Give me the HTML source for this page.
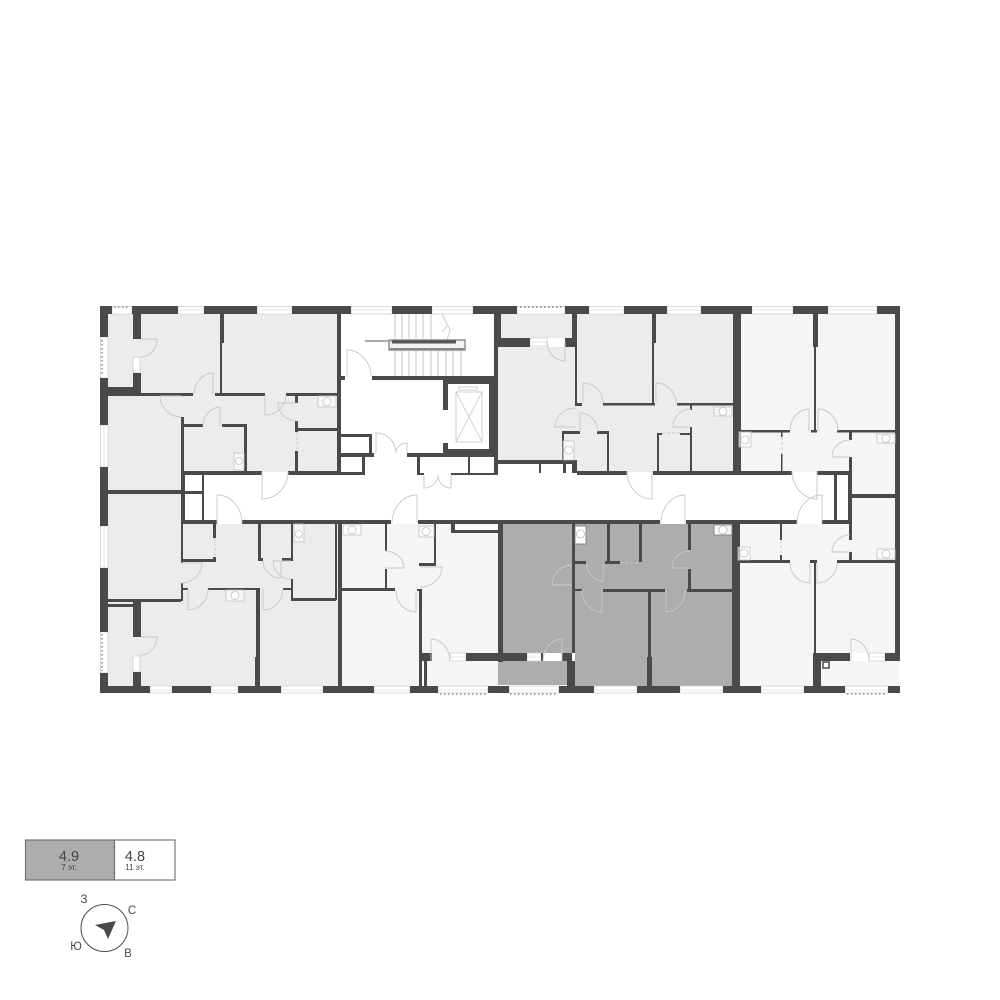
<!DOCTYPE html>
<html><head><meta charset="utf-8"><style>html,body{margin:0;padding:0;background:#fff}svg{display:block}text{font-family:"Liberation Sans",sans-serif}</style></head><body>
<svg width="1000" height="1000" viewBox="0 0 1000 1000" xmlns="http://www.w3.org/2000/svg" shape-rendering="geometricPrecision">
<rect width="1000" height="1000" fill="#fff"/>
<!-- apartment fills -->
<path fill="#ececec" d="M108 314H337V472H181V491H108Z"/>
<path fill="#ececec" d="M108 494H181V524H338V686H108Z"/>
<path fill="#f5f5f5" d="M342 524H498V686H427V661H422V686H342Z"/>
<path fill="#f5f5f5" d="M427 661H498V685H427Z"/>
<path fill="#fff" d="M455 524H498V530H455Z"/>
<path fill="#adadad" d="M503 524H733V686H575V653H503Z"/>
<path fill="#adadad" d="M498 661H567V685H498Z"/>
<path fill="#ececec" d="M498 347H572V340H577V314H733V472H498Z"/>
<path fill="#ececec" d="M501 314H572V338H501Z"/>
<path fill="#fff" d="M494 464H572V475H494Z"/>
<path fill="#f5f5f5" d="M741 314H895V497H849V472H741Z"/>
<path fill="#f5f5f5" d="M740 524H849V498H895V653H815V686H740Z"/>
<path fill="#f5f5f5" d="M821 661H899V686H821Z"/>
<!-- windows -->
<g fill="#fff" stroke="#cfcfcf" stroke-width="0.8">
<path d="M112 306.5H132V314H112Z M178 306.5H204V314H178Z M257 306.5H292V314H257Z M351 306.5H392V314H351Z M432 306.5H473V314H432Z M517 306.5H565V314H517Z M589 306.5H624V314H589Z M667 306.5H701V314H667Z M752 306.5H793V314H752Z M828 306.5H877V314H828Z"/>
<path d="M150 686H172V693H150Z M211 686H238V693H211Z M281 686H323V693H281Z M374 686H410V693H374Z M438 686H488V693H438Z M509 686H559V693H509Z M594 686H637V693H594Z M680 686H723V693H680Z M761 686H804V693H761Z M845 686H888V693H845Z"/>
<path d="M100.5 337H108V378H100.5Z M100.5 425H108V467H100.5Z M100.5 526H108V568H100.5Z M100.5 632H108V673H100.5Z"/>
<path d="M133 357H140V373H133Z M133 656H140V672H133Z M530 338H547V346H530Z M450 653H466V661H450Z M527 653H542V661H527Z M869 653H885V661H869Z"/>
</g>
<path fill="none" stroke="#cfcfcf" stroke-width="0.6" d="M178 310H204M257 310H292M351 310H392M432 310H473M589 310H624M667 310H701M752 310H793M828 310H877M281 690H323M374 690H410M438 690H488M509 690H559M594 690H637M680 690H723M761 690H804M845 690H888M150 690H172M211 690H238M104 425V467M104 526V568M530 342H547M450 657H466M527 657H542M869 657H885"/>
<path fill="none" stroke="#888" stroke-width="1.5" stroke-dasharray="1.5 2.5" d="M114 307H130M520 307H564M102 340V376M102 634V671M440 694H488M510 694H558M847 694H887"/>
<!-- stairs -->
<path fill="none" stroke="#d8d8d8" stroke-width="1.5" d="M395 314V339M402 314V339M409 314V339M416 314V339M423 314V339M431 314V339M395 351V376M402 351V376M409 351V376M416 351V376M423 351V376M431 351V376M438 351V376M446 351V376M453 351V376M461 351V376"/>
<path fill="none" stroke="#bbb" stroke-width="0.7" d="M442 314L450 330L447 340M447 326L442 332"/>
<path fill="#f2f2f2" stroke="#777" stroke-width="1.2" d="M389 340H465V350H389Z"/>
<path fill="#555" d="M392 340.500H456V343.500H392Z"/>
<path fill="#aaa" d="M365 340H392V342H365Z"/>
<path fill="#888" d="M390 348H464V350H390Z"/>
<!-- walls -->
<path fill="#4a4a4a" d="
M100 306H112V314H100Z M132 306H178V314H132Z M204 306H257V314H204Z M292 306H351V314H292Z M392 306H432V314H392Z M473 306H517V314H473Z M565 306H589V314H565Z M624 306H667V314H624Z M701 306H752V314H701Z M793 306H828V314H793Z M877 306H900V314H877Z
M100 686H150V693H100Z M172 686H211V693H172Z M238 686H281V693H238Z M323 686H374V693H323Z M410 686H438V693H410Z M488 686H509V693H488Z M559 686H594V693H559Z M637 686H680V693H637Z M723 686H761V693H723Z M804 686H845V693H804Z M888 686H900V693H888Z
M100 306H108V337H100Z M100 378H108V425H100Z M100 467H108V526H100Z M100 568H108V632H100Z M100 673H108V693H100Z
M895 306H900V661H895Z
M133 314H141V339H133Z M133 373H141V395H133Z M108 387H141V395H108Z M108 393H193V396H108Z M215 393H265V396H215Z M286 393H338V396H286Z
M220 314H224V343H220Z M220 343H222V393H220Z M337 314H341V475H337Z M341 376H345V380H341Z
M181 417H184V475H181Z M181 424H203V427H181Z M222 424H247V427H222Z M244 424H247V472H244Z M181 471H262V475H181Z M288 471H341V475H288Z
M295 395H298V403H295Z M295 421H298V432H295Z M295 451H298V472H295Z M297 428H337V431H297Z
M181 475H185V523H181Z M202 475H204V521H202Z M185 491H202V494H185Z M108 490H181V494H108Z
M341 434H372V437H341Z M369 434H372V453H369Z M341 453H374V457H341Z M362 457H365V475H362Z M335 472H365V475H335Z
M407 453H494V457H407Z M417 457H420V475H417Z M468 457H470V475H468Z M420 473H424V475H420Z M451 473H498V475H451Z
M494 314H501V345H494Z M494 345H498V475H494Z M498 338H530V347H498Z M565 338H572V347H565Z M572 314H577V347H572Z M575 347H577V403H575Z M575 403H582V406H575Z
M562 431H580V434H562Z M562 431H564V460H562Z M572 460H577V473H572Z M494 460H577V464H494Z M539 464H541V473H539Z M563 464H566V473H563Z M577 471H627V475H577Z M597 431H608V434H597Z
M372 376H494V380H372Z M341 376H345V380H341Z
M443 380H494V384H443Z M443 380H448V410H443Z M443 443H448V453H443Z M443 449H494V453H443Z M489 380H494V453H489Z
M181 520H217V524H181Z M242 520H391V524H242Z M418 520H660V524H418Z M686 520H797V524H686Z M822 520H852V524H822Z
M181 524H183V563H181Z M181 559H216V562H181Z M213 524H216V538H213Z M213 557H216V562H213Z
M181 583H183V601H181Z M183 588H188V590H183Z M208 588H260V590H208Z M108 599H181V602H108Z M133 602H141V637H133Z M133 672H141V686H133Z M108 604H133V607H108Z
M256 590H260V657H256Z M255 657H260V686H255Z
M258 524H261V560H258Z M258 558H263V561H258Z M282 558H293V561H282Z M291 524H293V561H291Z M291 579H293V600H291Z M283 588H293V590H283Z M291 598H336V601H291Z M335 524H337V600H335Z M338 524H342V693H338Z
M342 588H395V591H342Z M385 524H387V551H385Z M385 569H387V591H385Z M434 524H436V565H434Z M419 563H436V566H419Z M419 589H422V686H419Z M417 589H422V591H417Z
M451 524H455V532H451Z M451 530H498V533H451Z M498 524H503V662H498Z
M422 653H432V661H422Z M466 653H527V661H466Z M541 653H543V661H541Z M562 653H572V661H562Z M567 661H575V686H567Z M572 524H575V653H572Z M424 661H427V686H424Z
M573 561H586V564H573Z M572 589H582V591H572Z M605 561H620V564H605Z M607 524H610V562H607Z M639 524H642V562H639Z
M688 524H691V550H688Z M688 569H691V591H688Z M687 589H733V592H687Z M603 589H665V592H603Z M648 592H651V657H648Z M647 657H652V686H647Z
M732 524H740V693H732Z M740 560H790V563H740Z M780 524H782V540H780Z M780 555H782V560H780Z M810 560H817V563H810Z M814 563H816V653H814Z M813 653H821V686H813Z M837 560H895V563H837Z M849 524H852V540H849Z M849 552H852V562H849Z
M834 475H837V521H834Z M848 475H852V524H848Z M848 494H895V498H848Z
M817 653H850V661H817Z M885 653H895V661H885Z
M652 314H656V343H652Z M652 343H654V403H652Z M603 403H655V405.500H603Z M677 403H733V405.500H677Z
M690 405H692V410H690Z M690 427H692V471H690Z M607 431H609V471H607Z M657 433H659V471H657Z M680 433H690V435H680Z M657 433H662V435H657Z
M653 471H792V475H653Z M817 471H852V475H817Z M733 306H741V472H733Z
M741 430H790V432.500H741Z M781 432H782.500V437H781Z M781 454H782.500V471H781Z
M813 314H818V347H813Z M814 347H816V432H814Z M811 430H817V432.500H811Z M837 430H895V432.500H837Z M849 432H852V440H849Z M849 457H852V497H849Z
"/>
<path fill="#fff" stroke="#4a4a4a" stroke-width="1.5" d="M823 662H829V668H823Z"/>
<!-- lift -->
<path fill="none" stroke="#c4c4c4" stroke-width="0.8" d="M456 392H482V442H456ZM456 392L482 442M482 392L456 442M459 387H477V390H459Z"/>
<!-- doors -->
<g fill="none" stroke="#c8c8c8" stroke-width="0.9">
<path d="M141 339H157A16 18 0 0 1 141 357"/><path d="M141 637H157A16 18 0 0 1 141 655"/>
<path d="M213 395V373A19 22 0 0 0 194 395"/><path d="M181 396H160A21 21 0 0 0 181 417"/>
<path d="M220 426V407A18 19 0 0 0 203 426"/><path d="M265 395V415A21 20 0 0 0 286 395"/>
<path d="M297 403H278A19 18 0 0 0 297 421"/><path d="M262 472V499A26 27 0 0 0 288 472"/>
<path d="M347 377V350A24 27 0 0 1 371 377"/><path d="M217 523V495A25 28 0 0 1 242 523"/>
<path d="M181 563H202A21 20 0 0 1 181 583"/><path d="M188 589V610A20 21 0 0 0 208 589"/>
<path d="M263 589V610A20 21 0 0 0 283 589"/><path d="M291 561H273A18 18 0 0 0 291 579"/>
<path d="M281 561V578A18 17 0 0 1 263 561"/>
<path d="M376 453V433A20 20 0 0 1 396 453"/><path d="M407 453V443A11 10 0 0 0 396 453"/>
<path d="M424 475V488A14 13 0 0 0 438 475"/><path d="M451 475V488A13 13 0 0 1 438 475"/>
<path d="M417 523V495A25 28 0 0 0 392 523"/><path d="M385 568H404A19 17 0 0 0 385 551"/>
<path d="M420 567H442A22 20 0 0 1 420 587"/><path d="M416 591V612A20 21 0 0 1 396 591"/>
<path d="M431 661V639A19 22 0 0 1 450 661"/><path d="M562 661V639A19 22 0 0 0 543 661"/>
<path d="M572 585H552A20 20 0 0 1 572 565"/><path d="M603 564V581A16 17 0 0 1 587 564"/>
<path d="M602 590V612A20 21 0 0 1 582 590"/><path d="M666 590V612A20 21 0 0 0 685 590"/>
<path d="M690 568H672A18 17 0 0 1 690 551"/><path d="M685 523V495A24 28 0 0 0 661 523"/>
<path d="M822 523V495A25 28 0 0 0 797 523"/><path d="M810 563V583A20 20 0 0 1 790 563"/>
<path d="M817 563V583A20 20 0 0 0 837 563"/><path d="M850 552H832A18 17 0 0 1 850 535"/>
<path d="M851 661V639A18 22 0 0 1 869 661"/>
<path d="M583 403V383A20 20 0 0 1 603 403"/><path d="M656 403V383A20 20 0 0 1 676 403"/>
<path d="M580 432V413A18 19 0 0 1 598 432"/><path d="M576 427H555A21 19 0 0 1 576 408"/>
<path d="M691 427H673A18 18 0 0 1 691 409"/><path d="M652 471V499A25 28 0 0 1 627 471"/>
<path d="M817 471V499A25 28 0 0 1 792 471"/><path d="M809 431V409A19 22 0 0 0 790 431"/>
<path d="M818 431V409A20 22 0 0 1 838 431"/><path d="M850 457H832A18 17 0 0 1 850 440"/>
<path d="M565 341V361A18 20 0 0 1 547 341"/>
<path stroke-dasharray="3 2" d="M215 538V557M297 432V451M782 437V454M781 540V555M662 433H680M620 563H639"/>
</g>
<!-- sanitary -->
<g fill="#fff" fill-opacity="0.6" stroke="#c4c4c4" stroke-width="0.8">
<rect x="318" y="396" width="18" height="11"/><circle cx="327" cy="401.500" r="4"/>
<rect x="234" y="453" width="10" height="17"/><circle cx="239" cy="461" r="3.500"/>
<rect x="294" y="524" width="10" height="18"/><circle cx="299" cy="534" r="3.500"/>
<rect x="226" y="590" width="18" height="11"/><circle cx="235" cy="595.500" r="4"/>
<rect x="343" y="525" width="18" height="10"/><circle cx="352" cy="530" r="4"/>
<rect x="419" y="526" width="15" height="11"/><circle cx="426" cy="531.500" r="4"/>
<rect x="738" y="547" width="12" height="13"/><circle cx="744" cy="553" r="4"/>
<rect x="877" y="549" width="18" height="10"/><circle cx="886" cy="554" r="4"/>
<rect x="714" y="407" width="18" height="9"/><circle cx="723" cy="411.500" r="4"/>
<rect x="739" y="432" width="12" height="15"/><circle cx="745" cy="440" r="4"/>
<rect x="877" y="434" width="18" height="9"/><circle cx="886" cy="438.500" r="4"/>
<rect x="563" y="441" width="11" height="19"/><circle cx="568.500" cy="450" r="4"/>
</g>
<rect x="714" y="525" width="18" height="10" fill="#f4f4f4" stroke="#777" stroke-width="0.8"/><circle cx="723" cy="530" r="4" fill="#fff" stroke="#bbb" stroke-width="0.8"/>
<rect x="575" y="526" width="11" height="18" fill="#fff" stroke="#777" stroke-width="0.8"/><circle cx="580.500" cy="534" r="4" fill="#fff" stroke="#bbb" stroke-width="0.8"/>
<!-- legend -->
<rect x="25.500" y="840" width="89" height="40" fill="#adadad" stroke="#777" stroke-width="1.2"/>
<rect x="114.500" y="840" width="60.500" height="40" fill="#fff" stroke="#777" stroke-width="1.2"/>
<g fill="#444" text-anchor="middle">
<text x="69" y="861" font-size="14.500">4.9</text><text x="69" y="870" font-size="8">7 эт.</text>
<text x="135" y="861" font-size="14.500">4.8</text><text x="135" y="870" font-size="8">11 эт.</text>
</g>
<!-- compass -->
<circle cx="104.500" cy="928" r="23.500" fill="#fff" stroke="#4a4a4a" stroke-width="1"/>
<path fill="#4a4a4a" d="M116 921L95 925L104 930L108 939Z"/>
<g fill="#4a4a4a" font-size="11.500" text-anchor="middle">
<text x="84" y="903">З</text><text x="132" y="914">С</text><text x="76" y="950">Ю</text><text x="128" y="957">В</text>
</g>
</svg>
</body></html>
